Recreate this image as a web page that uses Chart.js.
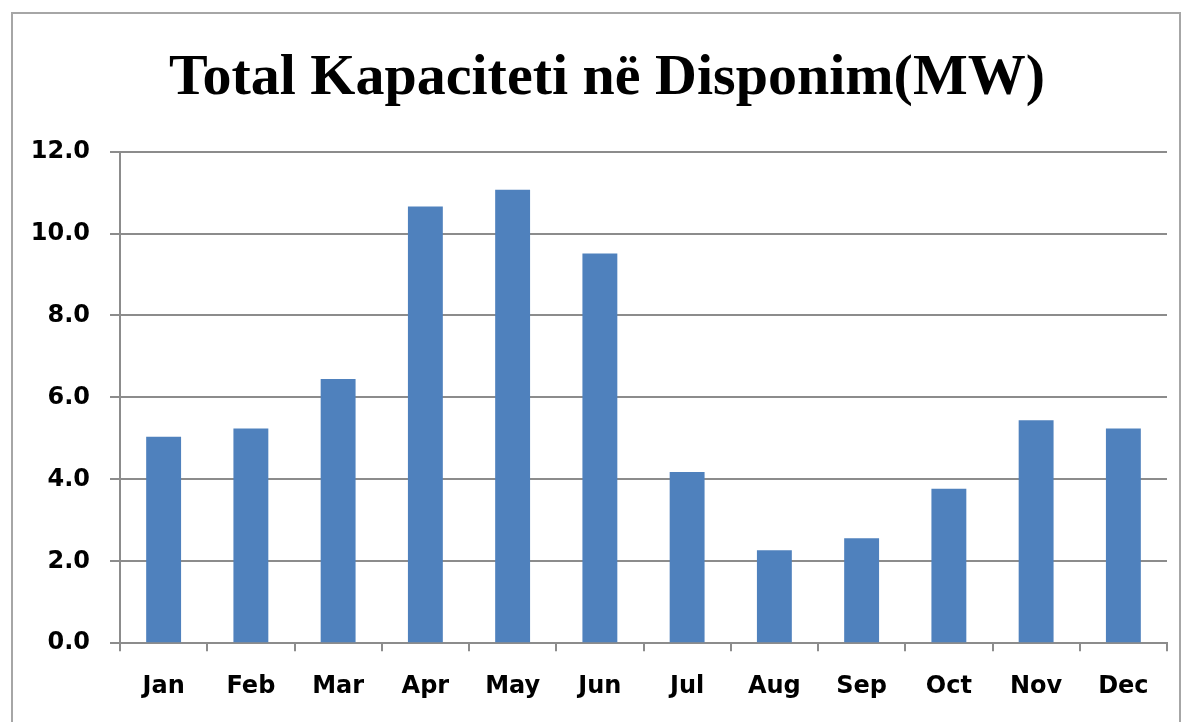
<!DOCTYPE html>
<html>
<head>
<meta charset="utf-8">
<script src="https://cdn.jsdelivr.net/npm/chart.js@4/dist/chart.umd.min.js"></script>
<style>
html,body{margin:0;padding:0;background:#fff;}
#wrap{position:relative;width:1192px;height:722px;}
canvas{display:block;}
</style>
</head>
<body>
<div id="wrap"><canvas id="c" width="1192" height="722"></canvas></div>
<script>
const categories = ["Jan","Feb","Mar","Apr","May","Jun","Jul","Aug","Sep","Oct","Nov","Dec"];
const capacity = [5.04, 5.24, 6.45, 10.66, 11.07, 9.51, 4.18, 2.27, 2.56, 3.77, 5.44, 5.24];
const yTicks = [0, 2, 4, 6, 8, 10, 12];
const titleText = "Total Kapaciteti në Disponim(MW)";

const borderPlugin = {
  id: 'frame',
  afterLayout(chart) {
    if (chart.titleBlock) { chart.titleBlock.left = 47; }
  },
  beforeDraw(chart) {
    const ctx = chart.ctx;
    ctx.save();
    ctx.fillStyle = '#fff';
    ctx.fillRect(0, 0, chart.width, chart.height);
    ctx.strokeStyle = '#a6a6a6';
    ctx.lineWidth = 2;
    ctx.strokeRect(12, 13, 1168, 720);
    ctx.restore();
  }
};

new Chart(document.getElementById('c'), {
  type: 'bar',
  data: {
    labels: categories,
    datasets: [{
      data: capacity,
      backgroundColor: '#4F81BD',
      borderWidth: 0,
      categoryPercentage: 1.0,
      barPercentage: 0.4
    }]
  },
  options: {
    responsive: false,
    animation: false,
    layout: { padding: { left: 0, right: 25, top: 0, bottom: 0 } },
    plugins: {
      legend: { display: false },
      tooltip: { enabled: false },
      title: {
        display: true,
        text: titleText,
        color: '#000',
        font: { family: "'Liberation Serif', 'Times New Roman', serif", size: 58, weight: 'bold', lineHeight: 1.2 },
        padding: { top: 44, bottom: 38 }
      }
    },
    scales: {
      x: {
        offset: true,
        grid: { display: true, drawOnChartArea: false, drawTicks: true, tickLength: 8, color: '#8c8c8c', lineWidth: 2, offset: true },
        border: { display: true, color: '#8c8c8c', width: 2 },
        ticks: { color: '#000', padding: 21, font: { family: "'DejaVu Sans', sans-serif", size: 24, weight: 'bold', lineHeight: 1.2 } }
      },
      y: {
        min: 0, max: 12,
        afterFit(scale) { scale.width = 120; },
        afterBuildTicks(scale) { scale.ticks = yTicks.map(v => ({ value: v })); },
        grid: { color: '#8c8c8c', lineWidth: 2, tickLength: 10 },
        border: { display: true, color: '#8c8c8c', width: 2 },
        ticks: {
          color: '#000', padding: 20,
          font: { family: "'DejaVu Sans', sans-serif", size: 24, weight: 'bold' },
          callback: v => Number(v).toFixed(1)
        }
      }
    }
  },
  plugins: [borderPlugin]
});
</script>
</body>
</html>
